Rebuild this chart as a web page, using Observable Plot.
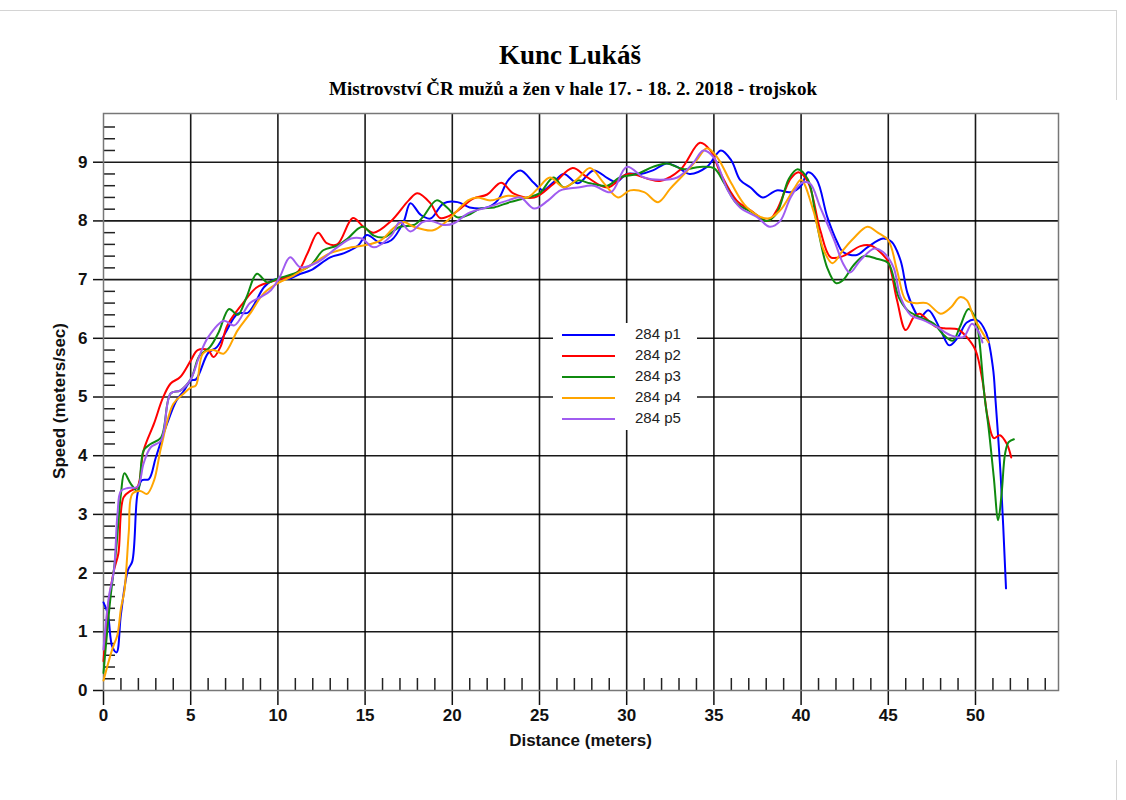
<!DOCTYPE html>
<html><head><meta charset="utf-8">
<script src="https://cdn.jsdelivr.net/npm/d3@7"></script>
<script src="https://cdn.jsdelivr.net/npm/@observablehq/plot@0.6"></script>
<style>
body{margin:0;background:#fff;width:1126px;height:800px;position:relative;overflow:hidden;font-family:"Liberation Sans",Arial,sans-serif}
#page{position:absolute;left:0;top:10px;width:1116px;height:800px;border-top:1px solid #d4d4d4;border-right:1px solid #d4d4d4}
#title{position:absolute;left:0;width:1140px;top:40px;text-align:center;font-family:"Liberation Serif","Times New Roman",serif;font-weight:bold;font-size:27px;color:#000}
#subtitle{position:absolute;left:0;width:1146px;top:78px;text-align:center;font-family:"Liberation Serif","Times New Roman",serif;font-weight:bold;font-size:19px;color:#000}
#chart{position:absolute;left:0;top:100px}
#xlabel{position:absolute;left:103px;width:955px;top:731px;text-align:center;font-weight:bold;font-size:17px;color:#111}
#ylabel{position:absolute;left:60px;top:401px;transform:translate(-50%,-50%) rotate(-90deg);white-space:nowrap;font-weight:bold;font-size:17px;color:#111}
#legend{position:absolute;left:553px;top:323px;width:144px;height:107px;background:#fff}
.row{position:absolute;left:0;height:20px;width:144px}
.sw{position:absolute;left:9px;top:10px;width:53px;height:0;border-top:2px solid}
.lb{position:absolute;left:82px;top:1px;font-size:15px;color:#222}
</style></head><body>
<div id="page"></div>
<div id="title">Kunc Lukáš</div>
<div id="subtitle">Mistrovství ČR mužů a žen v hale 17. - 18. 2. 2018 - trojskok</div>
<div id="chart"></div>
<div id="xlabel">Distance (meters)</div>
<div id="ylabel">Speed (meters/sec)</div>
<div id="legend"></div>
<script>
const seriesNames = ["284 p1", "284 p2", "284 p3", "284 p4", "284 p5"];
const seriesColors = ["#0000ff", "#ff0000", "#0f8a0f", "#ffa500", "#a05cf0"];
const xTicks = [0, 5, 10, 15, 20, 25, 30, 35, 40, 45, 50];
const yTicks = [0, 1, 2, 3, 4, 5, 6, 7, 8, 9];
const xMinor = d3.range(1, 55).filter(d => d % 5 !== 0);
const yMinor = d3.range(1, 49).map(d => d / 5).filter(d => Math.abs(d - Math.round(d)) > 1e-6);
const xDomain = [0, 54.76];
const yDomain = [0, 9.83];

// [distance (m), speed (m/s)]
const p1 = [[0,1.5],[0.25,1.3],[0.5,0.75],[0.75,0.65],[1.0,1.3],[1.4,2.05],[1.65,2.2],[1.95,3.35],[2.2,3.58],[2.6,3.6],[3.0,3.97],[3.65,4.55],[4.2,4.95],[4.6,5.1],[5.0,5.28],[5.3,5.3],[6.0,5.75],[6.5,5.85],[7.0,6.1],[7.7,6.42],[8.3,6.44],[9.2,6.87],[9.7,6.99],[10.7,7.02],[11.3,7.1],[11.9,7.16],[13.0,7.38],[13.8,7.45],[14.6,7.58],[15.1,7.76],[15.9,7.62],[16.5,7.67],[17.2,7.98],[17.6,8.3],[18.2,8.1],[18.75,8.04],[19.5,8.3],[20.3,8.32],[21.0,8.23],[22.0,8.23],[22.6,8.35],[23.2,8.69],[23.9,8.86],[24.7,8.64],[25.2,8.52],[25.8,8.66],[26.4,8.8],[27.2,8.64],[28.1,8.86],[28.9,8.73],[29.4,8.66],[30.0,8.8],[30.8,8.8],[31.5,8.86],[32.3,8.98],[32.9,8.92],[33.6,8.8],[34.6,8.92],[35.4,9.2],[36.0,9.03],[36.5,8.7],[37.1,8.57],[37.8,8.4],[38.6,8.52],[39.4,8.49],[40.0,8.6],[40.4,8.83],[40.9,8.7],[41.5,8.07],[42.1,7.62],[42.4,7.47],[43.2,7.42],[43.8,7.55],[44.7,7.7],[45.2,7.64],[45.7,7.33],[46.1,6.77],[46.6,6.42],[46.8,6.34],[47.3,6.48],[48.0,6.14],[48.5,5.88],[49.0,6.02],[49.5,6.27],[50.1,6.31],[50.6,6.1],[51.0,5.5],[51.15,4.94],[51.45,3.63],[51.75,1.74]];
const p2 = [[0,0.5],[0.3,1.5],[0.6,2.05],[0.85,2.33],[1.15,3.29],[1.55,3.4],[1.95,3.47],[2.3,4.09],[2.9,4.55],[3.4,4.98],[3.85,5.23],[4.4,5.34],[5.0,5.62],[5.4,5.8],[6.0,5.8],[6.3,5.68],[6.7,5.85],[7.1,6.22],[8.0,6.6],[8.8,6.87],[10.0,7.0],[11.1,7.12],[11.7,7.45],[12.3,7.8],[12.8,7.62],[13.4,7.6],[14.3,8.05],[14.9,7.9],[15.5,7.8],[16.5,8.0],[17.5,8.35],[18.0,8.47],[18.75,8.3],[19.3,8.05],[20.1,8.13],[21.2,8.38],[22.0,8.45],[22.8,8.65],[23.5,8.47],[24.7,8.4],[25.8,8.63],[26.9,8.9],[27.7,8.75],[28.9,8.57],[30.05,8.8],[31.2,8.72],[31.9,8.68],[33.1,8.88],[34.2,9.33],[34.8,9.2],[35.4,8.8],[36.3,8.35],[37.1,8.18],[38.1,8.0],[38.6,8.18],[39.4,8.72],[39.85,8.83],[40.4,8.66],[41.1,7.84],[41.7,7.38],[42.4,7.4],[43.4,7.57],[44.0,7.58],[44.6,7.45],[45.0,7.3],[45.5,6.65],[46.0,6.14],[46.5,6.38],[46.8,6.42],[47.7,6.2],[48.2,6.17],[49.0,6.15],[49.5,6.02],[50.0,5.8],[50.4,5.28],[50.7,4.65],[51.05,4.3],[51.4,4.35],[51.8,4.2],[52.05,3.97]];
const p3 = [[0,0.3],[0.4,1.58],[0.7,2.33],[1.0,3.35],[1.2,3.7],[1.55,3.53],[1.95,3.4],[2.3,4.09],[2.7,4.2],[3.3,4.31],[3.85,5.06],[4.4,5.11],[5.0,5.3],[5.5,5.7],[6.1,5.85],[6.6,6.1],[7.2,6.5],[7.7,6.4],[8.2,6.7],[8.8,7.1],[9.4,6.95],[10.0,7.02],[10.9,7.1],[11.9,7.25],[12.6,7.5],[13.4,7.58],[14.0,7.7],[14.6,7.87],[14.9,7.9],[15.5,7.75],[16.1,7.72],[17.0,7.9],[17.8,7.93],[18.3,8.06],[19.1,8.35],[19.7,8.23],[20.3,8.06],[20.9,8.1],[21.6,8.21],[22.4,8.23],[23.3,8.32],[24.3,8.4],[25.0,8.47],[25.8,8.74],[26.4,8.57],[27.2,8.69],[27.9,8.64],[28.9,8.6],[29.6,8.74],[30.6,8.8],[31.5,8.92],[32.3,8.98],[33.3,8.88],[34.2,8.92],[35.0,8.9],[35.6,8.64],[36.3,8.3],[37.3,8.13],[38.0,8.0],[38.6,8.13],[39.3,8.72],[39.8,8.88],[40.4,8.7],[40.9,7.96],[41.5,7.2],[42.0,6.94],[42.4,6.99],[43.0,7.24],[43.6,7.4],[44.4,7.35],[45.0,7.28],[45.6,6.7],[46.1,6.48],[46.8,6.36],[47.6,6.25],[48.2,6.05],[48.7,5.96],[49.1,6.19],[49.6,6.5],[50.0,6.34],[50.2,6.02],[50.5,5.06],[50.75,4.48],[51.05,3.63],[51.3,2.9],[51.5,3.36],[51.7,4.04],[51.9,4.23],[52.2,4.28]];
const p4 = [[0,0.17],[0.5,0.7],[0.8,0.95],[1.0,1.4],[1.2,1.7],[1.45,2.7],[1.65,3.35],[2.1,3.4],[2.5,3.35],[2.9,3.58],[3.3,4.14],[4.0,4.88],[4.6,5.06],[5.0,5.16],[5.3,5.2],[5.7,5.74],[6.3,5.8],[6.9,5.74],[7.7,6.14],[8.4,6.42],[9.2,6.77],[10.0,6.94],[10.9,7.07],[11.9,7.25],[13.0,7.45],[14.2,7.55],[14.9,7.58],[15.9,7.67],[16.6,7.87],[17.2,7.98],[17.8,7.9],[18.9,7.84],[19.7,8.0],[20.9,8.35],[21.4,8.4],[22.2,8.35],[23.2,8.43],[24.3,8.4],[24.9,8.55],[25.6,8.74],[26.4,8.57],[27.2,8.72],[27.9,8.9],[28.7,8.64],[29.5,8.4],[30.2,8.52],[31.0,8.49],[31.8,8.32],[32.5,8.55],[33.3,8.8],[34.0,9.03],[34.6,9.24],[35.2,9.08],[36.0,8.64],[36.9,8.23],[38.1,8.04],[38.8,8.18],[39.6,8.55],[40.0,8.7],[40.7,8.18],[41.3,7.5],[41.8,7.28],[42.4,7.5],[43.0,7.7],[43.8,7.9],[44.4,7.8],[45.0,7.67],[45.5,7.16],[46.0,6.65],[46.5,6.6],[47.2,6.6],[48.0,6.42],[48.6,6.53],[49.1,6.7],[49.5,6.65],[49.9,6.36],[50.75,5.93]];
const p5 = [[0,0.7],[0.3,1.58],[0.6,2.05],[0.8,3.0],[1.0,3.4],[1.4,3.45],[1.95,3.47],[2.3,3.87],[2.7,4.14],[3.3,4.26],[3.85,5.06],[4.4,5.11],[5.0,5.3],[5.5,5.7],[6.0,6.02],[6.9,6.3],[7.5,6.22],[8.4,6.6],[9.0,6.7],[9.6,6.82],[10.1,7.04],[10.7,7.38],[11.3,7.21],[12.3,7.3],[13.4,7.55],[14.2,7.7],[14.8,7.7],[15.5,7.55],[16.5,7.75],[17.0,7.98],[17.6,7.82],[18.3,7.98],[18.8,8.0],[19.5,7.93],[20.1,7.96],[20.9,8.13],[22.0,8.23],[23.2,8.35],[23.9,8.4],[24.7,8.21],[25.5,8.35],[26.2,8.52],[27.2,8.57],[28.1,8.6],[29.1,8.49],[30.0,8.92],[31.0,8.74],[31.9,8.7],[32.9,8.74],[33.8,8.98],[34.4,9.2],[35.0,9.08],[35.8,8.52],[36.5,8.23],[37.5,8.06],[38.2,7.9],[38.8,8.0],[39.4,8.4],[40.0,8.64],[40.5,8.64],[41.1,8.23],[41.9,7.67],[42.4,7.28],[42.8,7.12],[43.4,7.33],[44.2,7.53],[44.7,7.47],[45.3,7.21],[45.7,6.7],[46.3,6.39],[47.0,6.31],[47.8,6.19],[48.6,6.05],[49.3,6.02],[49.8,6.25],[50.2,6.1],[50.4,5.93]];

const seriesPoints = [p1, p2, p3, p4, p5];
const rows = seriesPoints.flatMap((pts, i) => pts.map(([x, y]) => ({series: seriesNames[i], x, y})));

const W = 1126, H = 660;
const mL = 103, mR = 68, mT = 13, mB = 70;
const pxX = (xDomain[1] - xDomain[0]) / (W - mL - mR);
const pxY = (yDomain[1] - yDomain[0]) / (H - mT - mB);
const minorLen = 12;

const chart = Plot.plot({
  width: W, height: H,
  marginLeft: mL, marginRight: mR, marginTop: mT, marginBottom: mB,
  style: {background: "#fff", fontFamily: "'Liberation Sans', Arial, sans-serif", overflow: "visible"},
  x: {domain: xDomain},
  y: {domain: yDomain},
  color: {domain: seriesNames, range: seriesColors},
  marks: [
    Plot.gridX(xTicks.filter(d => d > 0), {stroke: "#000", strokeOpacity: 0.9, strokeWidth: 1.6}),
    Plot.gridY(yTicks.filter(d => d > 0), {stroke: "#000", strokeOpacity: 0.9, strokeWidth: 1.6}),
    Plot.ruleY(yMinor, {y: d => d, x1: xDomain[0], x2: xDomain[0] + minorLen * pxX, stroke: "#222", strokeWidth: 1.5}),
    Plot.ruleX(xMinor, {x: d => d, y1: yDomain[0], y2: yDomain[0] + minorLen * pxY, stroke: "#222", strokeWidth: 1.5}),
    Plot.axisX({ticks: xTicks, tickSize: 15, tickPadding: 3, tickFormat: d => String(d), label: null, fontSize: 17, fontWeight: "bold", strokeWidth: 1.5, color: "#111"}),
    Plot.axisY({ticks: yTicks, tickSize: 10, tickPadding: 6, tickFormat: d => String(d), label: null, fontSize: 17, fontWeight: "bold", strokeWidth: 1.5, color: "#111"}),
    Plot.frame({stroke: "#777", strokeWidth: 1.5}),
    Plot.line(rows, {x: "x", y: "y", z: "series", stroke: "series", curve: "catmull-rom", strokeWidth: 2})
  ]
});
document.getElementById("chart").appendChild(chart);

const legend = document.getElementById("legend");
seriesNames.forEach((name, i) => {
  const row = document.createElement("div");
  row.className = "row";
  row.style.top = (1 + i * 21) + "px";
  row.innerHTML = `<div class="sw" style="border-color:${seriesColors[i]}"></div><div class="lb">${name}</div>`;
  legend.appendChild(row);
});
</script>
</body></html>
